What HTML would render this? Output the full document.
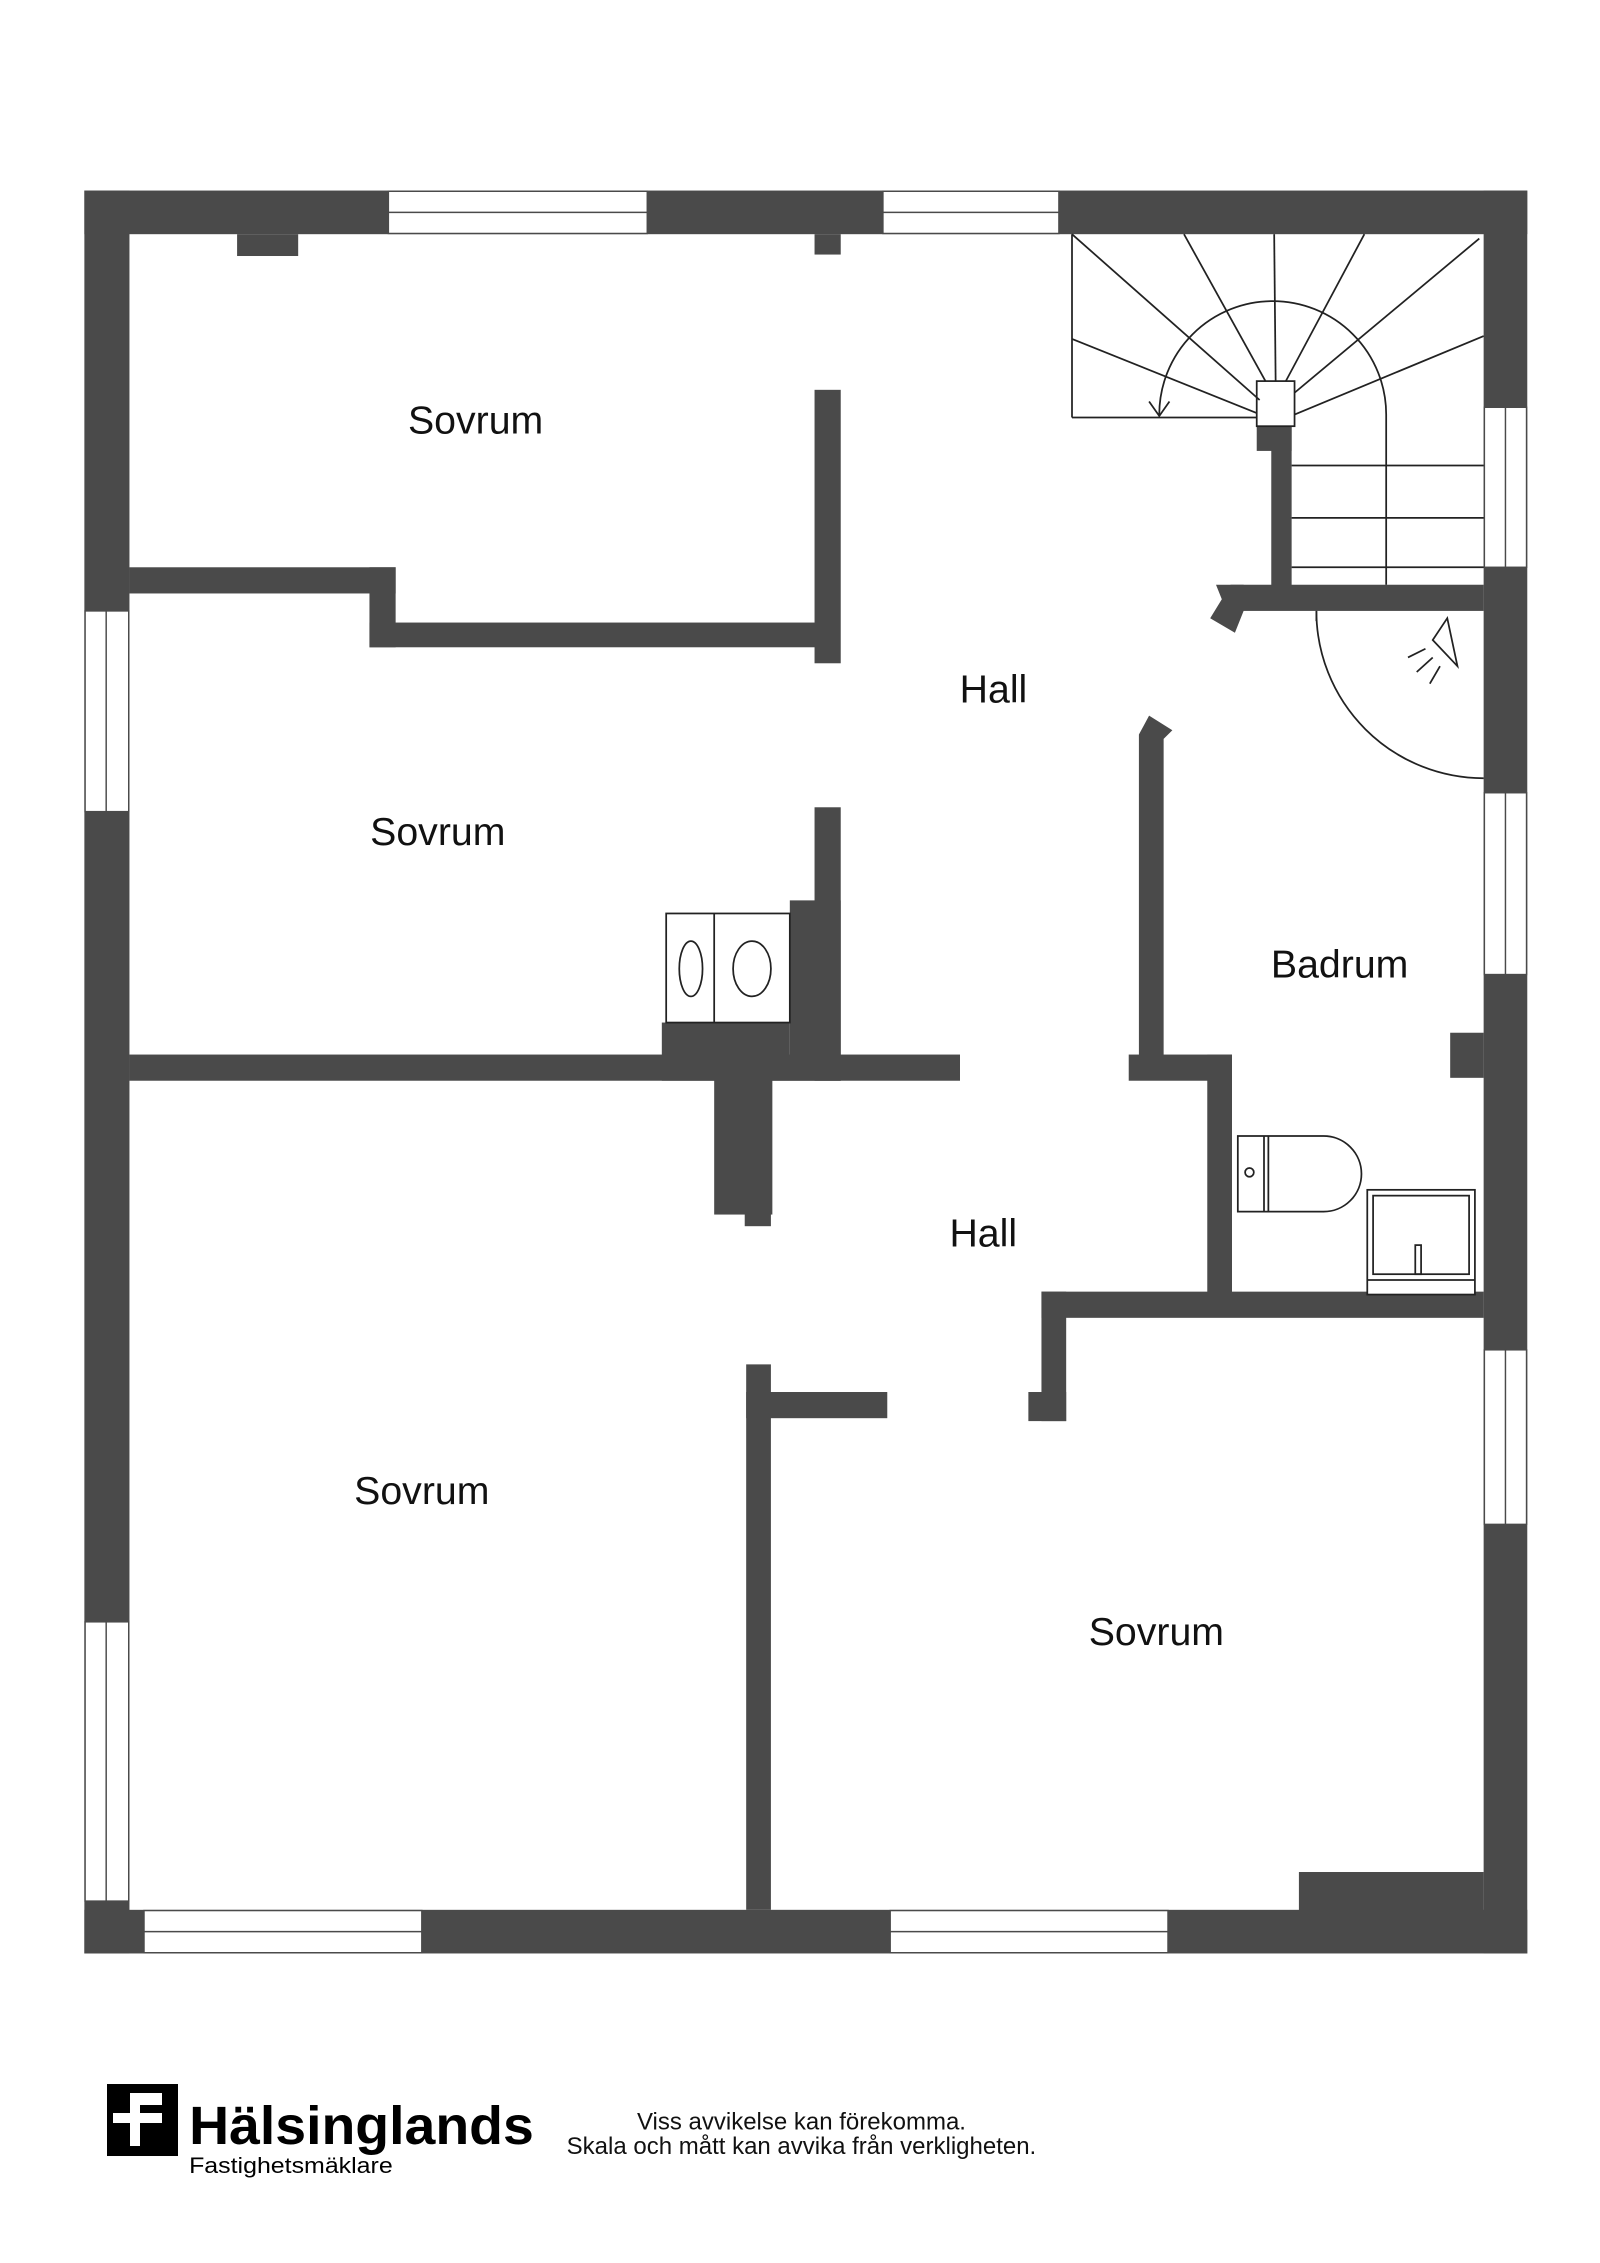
<!DOCTYPE html>
<html><head><meta charset="utf-8"><style>
html,body{margin:0;padding:0;background:#fff}
svg{display:block}
text{font-family:"Liberation Sans",sans-serif}
</style></head><body>
<svg width="1600" height="2263" viewBox="0 0 1100 1555.8" xmlns="http://www.w3.org/2000/svg">
<rect width="1100" height="1556" fill="#fff"/>
<g fill="#4a4a4a">
<rect x="58" y="131" width="992" height="30"/>
<rect x="58" y="1313" width="992" height="30"/>
<rect x="58" y="131" width="31" height="1212"/>
<rect x="1020" y="131" width="30" height="1212"/>
<rect x="163" y="161" width="42" height="15"/>
<rect x="560" y="161" width="18" height="14"/>
<rect x="89" y="390" width="183" height="18"/>
<rect x="254" y="390" width="18" height="55"/>
<rect x="254" y="428" width="322" height="17"/>
<rect x="560" y="268" width="18" height="188"/>
<rect x="560" y="555" width="18" height="188"/>
<rect x="543" y="619" width="35" height="124"/>
<rect x="455" y="703" width="88" height="40"/>
<rect x="89" y="725" width="571" height="18"/>
<rect x="491" y="725" width="40" height="110"/>
<rect x="512" y="830" width="18" height="13"/>
<rect x="513" y="938" width="17" height="375"/>
<rect x="513" y="957" width="97" height="18"/>
<rect x="707" y="957" width="26" height="20"/>
<rect x="716" y="888" width="17" height="89"/>
<rect x="716" y="888" width="304" height="18"/>
<rect x="893" y="1287" width="127" height="30"/>
<polygon points="783,505 790,492 806,502 800,508 800,742 783,742"/>
<rect x="776" y="725" width="71" height="18"/>
<rect x="830" y="725" width="17" height="170"/>
<rect x="997" y="710" width="23" height="31"/>
<rect x="846" y="402" width="174" height="18"/>
<polygon points="836,402 855,402 855,420 849,435 832,425 840,412"/>
<rect x="874" y="293" width="14" height="110"/>
<rect x="864" y="293" width="24" height="17"/>
</g>
<g fill="#fff" stroke="#4a4a4a" stroke-width="1">
<rect x="267" y="131.5" width="178" height="29"/>
<rect x="607" y="131.5" width="121" height="29"/>
<rect x="99" y="1313.5" width="191" height="29"/>
<rect x="612" y="1313.5" width="191" height="29"/>
<rect x="58.5" y="420" width="30" height="138"/>
<rect x="58.5" y="1115" width="30" height="192"/>
<rect x="1020.5" y="280" width="29" height="110"/>
<rect x="1020.5" y="545" width="29" height="125"/>
<rect x="1020.5" y="928" width="29" height="120"/>
</g>
<g stroke="#4a4a4a" stroke-width="1">
<line x1="267" y1="146" x2="445" y2="146"/>
<line x1="607" y1="146" x2="728" y2="146"/>
<line x1="99" y1="1328" x2="290" y2="1328"/>
<line x1="612" y1="1328" x2="803" y2="1328"/>
<line x1="73" y1="420" x2="73" y2="558"/>
<line x1="73" y1="1115" x2="73" y2="1307"/>
<line x1="1035" y1="280" x2="1035" y2="390"/>
<line x1="1035" y1="545" x2="1035" y2="670"/>
<line x1="1035" y1="928" x2="1035" y2="1048"/>
</g>
<g stroke="#222" stroke-width="1.2" fill="none">
<line x1="737" y1="161" x2="737" y2="287"/>
<line x1="737" y1="287" x2="864" y2="287"/>
<rect x="864" y="262" width="26" height="31" fill="#fff"/>
<line x1="737" y1="161" x2="866" y2="275"/>
<line x1="814" y1="161" x2="870" y2="262"/>
<line x1="876" y1="161" x2="877" y2="262"/>
<line x1="938" y1="161" x2="884" y2="262"/>
<line x1="1017" y1="164" x2="890" y2="270"/>
<line x1="737" y1="233" x2="864" y2="284"/>
<line x1="1020" y1="231" x2="890" y2="285"/>
<path d="M797 285 A78 78 0 0 1 953 285 L953 402"/>
<path d="M790 276 L797 286 L804 276"/>
<line x1="888" y1="320" x2="1020" y2="320"/>
<line x1="888" y1="356" x2="1020" y2="356"/>
<line x1="888" y1="390" x2="1020" y2="390"/>
<path d="M905 420 A115 115 0 0 0 1020 535"/>
<line x1="905" y1="420" x2="905" y2="427"/>
<path d="M985 440 L995 425 L1002 458 Z" />
<line x1="968" y1="452" x2="980" y2="446"/>
<line x1="974" y1="462" x2="985" y2="452"/>
<line x1="983" y1="470" x2="990" y2="458"/>
<rect x="458" y="628" width="85" height="75" fill="#fff"/>
<line x1="491" y1="628" x2="491" y2="703"/>
<ellipse cx="475" cy="666" rx="8" ry="19"/>
<ellipse cx="517" cy="666" rx="13" ry="19"/>
<path d="M851 781 L910 781 A26 26 0 0 1 910 833 L851 833 Z" fill="#fff"/>
<line x1="869" y1="781" x2="869" y2="833"/>
<line x1="872" y1="781" x2="872" y2="833"/>
<circle cx="859" cy="806" r="3"/>
<rect x="940" y="818" width="74" height="72" fill="#fff"/>
<rect x="944" y="822" width="66" height="54"/>
<line x1="940" y1="880" x2="1014" y2="880"/>
<rect x="973" y="856" width="4" height="20"/>
</g>
<g font-size="27" fill="#111" text-anchor="middle">
<text x="327" y="298">Sovrum</text>
<text x="301" y="581">Sovrum</text>
<text x="683" y="483">Hall</text>
<text x="921" y="672">Badrum</text>
<text x="676" y="857">Hall</text>
<text x="290" y="1034">Sovrum</text>
<text x="795" y="1131">Sovrum</text>
</g>
<g transform="scale(0.6875)">
<rect x="107" y="2084" width="71" height="72" fill="#000"/>
<rect x="130" y="2093" width="10" height="53" fill="#fff"/>
<rect x="113" y="2113" width="49" height="10" fill="#fff"/>
<rect x="140" y="2093" width="22" height="12" fill="#fff"/>
</g>
<text x="130" y="1474" font-size="37" font-weight="bold" fill="#000" textLength="237" lengthAdjust="spacingAndGlyphs">Hälsinglands</text>
<text x="130" y="1494" font-size="15" fill="#000" textLength="140" lengthAdjust="spacingAndGlyphs">Fastighetsmäklare</text>
<g font-size="16.5" fill="#111" text-anchor="middle">
<text x="551" y="1464">Viss avvikelse kan förekomma.</text>
<text x="551" y="1481">Skala och mått kan avvika från verkligheten.</text>
</g>
</svg>
</body></html>
